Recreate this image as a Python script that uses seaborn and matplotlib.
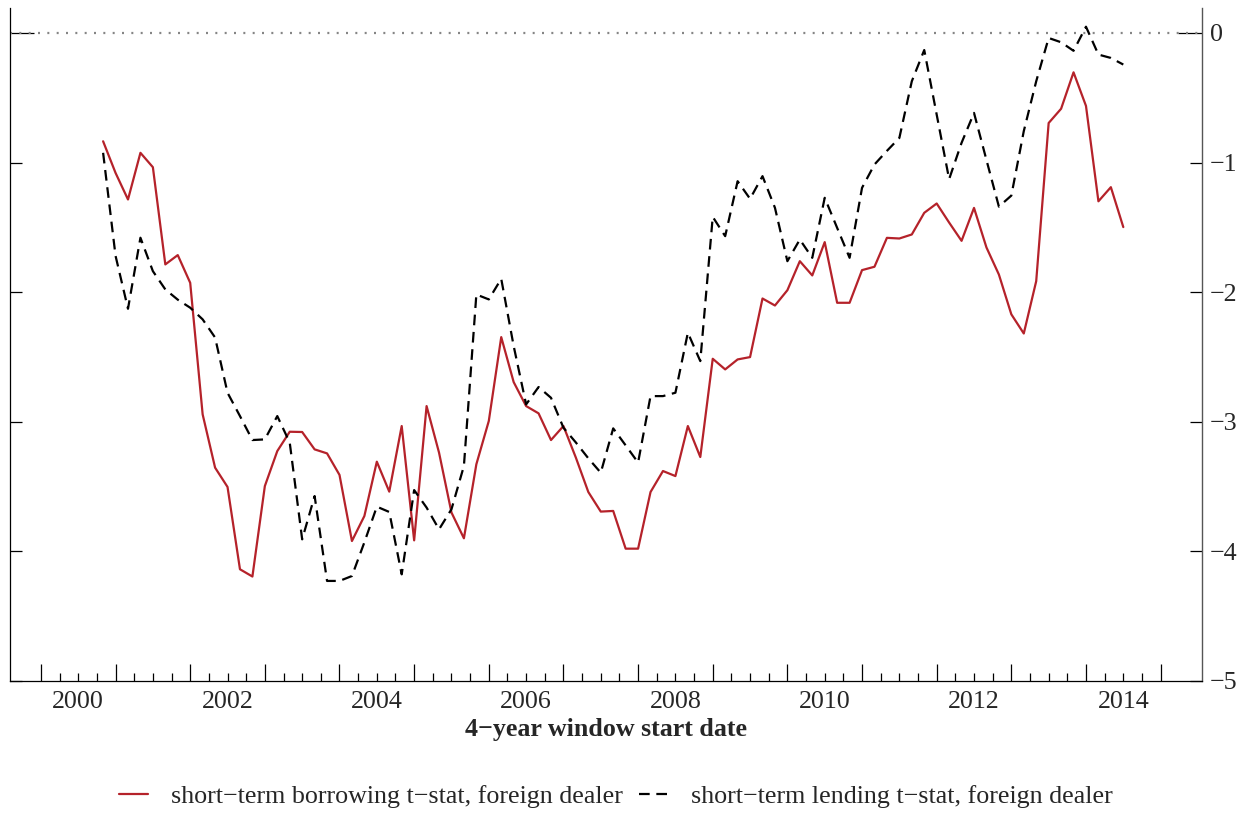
import numpy as np
import pandas as pd
import matplotlib
matplotlib.use("Agg")
import matplotlib.pyplot as plt
from matplotlib.ticker import FixedLocator, FixedFormatter, MultipleLocator
import seaborn as sns

# Rolling 4-year windows, one every two months
window_start = pd.date_range("2000-05-01", "2014-01-01", freq="2MS")

borrowing_tstat = [
    -0.836, -1.080, -1.285, -0.925, -1.036, -1.786, -1.714, -1.928, -2.943, -3.354,
    -3.503, -4.138, -4.194, -3.496, -3.226, -3.077, -3.079, -3.213, -3.244, -3.410,
    -3.920, -3.727, -3.308, -3.539, -3.033, -3.915, -2.879, -3.238, -3.700, -3.899,
    -3.328, -2.994, -2.347, -2.694, -2.879, -2.935, -3.141, -3.033, -3.277, -3.542,
    -3.693, -3.688, -3.979, -3.979, -3.542, -3.380, -3.419, -3.033, -3.272, -2.514,
    -2.596, -2.519, -2.501, -2.049, -2.103, -1.985, -1.761, -1.871, -1.614, -2.082,
    -2.082, -1.830, -1.804, -1.581, -1.586, -1.555, -1.388, -1.316, -1.463, -1.604,
    -1.350, -1.655, -1.864, -2.171, -2.319, -1.915, -0.695, -0.585, -0.304, -0.563,
    -1.299, -1.190, -1.498,
]

lending_tstat = [
    -0.925, -1.720, -2.128, -1.580, -1.838, -1.979, -2.058, -2.120, -2.210, -2.350,
    -2.776, -2.956, -3.141, -3.136, -2.956, -3.161, -3.907, -3.573, -4.228, -4.228,
    -4.190, -3.930, -3.655, -3.696, -4.177, -3.527, -3.662, -3.830, -3.675, -3.341,
    -2.018, -2.056, -1.897, -2.416, -2.866, -2.732, -2.815, -3.046, -3.160, -3.282,
    -3.393, -3.051, -3.182, -3.315, -2.802, -2.802, -2.776, -2.313, -2.532, -1.419,
    -1.568, -1.144, -1.280, -1.105, -1.349, -1.761, -1.594, -1.735, -1.272, -1.504,
    -1.735, -1.195, -1.015, -0.910, -0.810, -0.373, -0.132, -0.630, -1.128, -0.848,
    -0.617, -0.980, -1.340, -1.255, -0.758, -0.373, -0.039, -0.072, -0.138, 0.048,
    -0.167, -0.193, -0.244,
]

series_names = [
    "short\u2212term borrowing t\u2212stat, foreign dealer",
    "short\u2212term lending t\u2212stat, foreign dealer",
]
year_ticks = [2000, 2002, 2004, 2006, 2008, 2010, 2012, 2014]
year_labels = ["2000", "2002", "2004", "2006", "2008", "2010", "2012", "2014"]
y_ticks = [-5, -4, -3, -2, -1]
y_labels = ["\u22125", "\u22124", "\u22123", "\u22122", "\u22121"]

FONT_SIZE = 18.7

sns.set_style("ticks")
plt.rcParams["font.family"] = ["Liberation Serif", "DejaVu Serif"]
plt.rcParams["axes.unicode_minus"] = True

decimal_year = window_start.year + (window_start.month - 1) / 12.0
wide = pd.DataFrame({
    "start": decimal_year,
    series_names[0]: borrowing_tstat,
    series_names[1]: lending_tstat,
})
long = wide.melt(id_vars="start", var_name="series", value_name="tstat")

fig = plt.figure(figsize=(12.47, 8.14), dpi=100)
ax = fig.add_axes([0.00826, 0.1634, 0.9554, 0.8264])

# zero reference line
ax.axhline(0, color="#858585", lw=1.6, ls=(0, (0.9, 3.3)), zorder=1)

sns.lineplot(
    data=long, x="start", y="tstat", hue="series", style="series",
    palette={series_names[0]: "#b5222a", series_names[1]: "black"},
    dashes={series_names[0]: "", series_names[1]: (4.8, 3.0)},
    linewidth=1.6, ax=ax, legend="auto", zorder=3,
)

ax.set_xlim(1999.09, 2015.05)
ax.set_ylim(-5, 0.19)

# year labels on the bottom axis without tick marks
ax.set_xticks(year_ticks, labels=year_labels)
ax.tick_params(axis="x", length=0, pad=7, labelsize=FONT_SIZE)

# tick marks: long at mid-year, short every quarter
ticks_ax = ax.secondary_xaxis("bottom")
ticks_ax.xaxis.set_major_locator(MultipleLocator(1.0, offset=0.5))
ticks_ax.xaxis.set_minor_locator(FixedLocator(np.arange(1999.5, 2014.51, 0.25)))
ticks_ax.tick_params(which="major", direction="in", length=12, width=0.9,
                     color="black", labelbottom=False)
ticks_ax.tick_params(which="minor", direction="in", length=6, width=0.9,
                     color="black")
ticks_ax.spines["bottom"].set_visible(False)

# y axis: ticks on both sides, labels on the right
ax.yaxis.set_major_locator(FixedLocator(y_ticks))
ax.yaxis.set_major_formatter(FixedFormatter(y_labels))
ax.yaxis.set_minor_locator(FixedLocator([0]))
ax.yaxis.set_minor_formatter(FixedFormatter(["0"]))
ax.tick_params(axis="y", which="both", direction="in", left=True, right=True,
               labelleft=False, labelright=True, width=0.9, color="black",
               labelsize=FONT_SIZE, pad=6)
ax.tick_params(axis="y", which="major", length=8.6)
ax.tick_params(axis="y", which="minor", length=17.5)

ax.set_xlabel("4\u2212year window start date", fontsize=FONT_SIZE,
              fontweight="bold", labelpad=4)
ax.set_ylabel("")

ax.spines["top"].set_visible(False)
ax.spines["left"].set_color("black")
ax.spines["left"].set_linewidth(0.9)
ax.spines["bottom"].set_color("black")
ax.spines["bottom"].set_linewidth(0.9)
ax.spines["right"].set_color("#555555")
ax.spines["right"].set_linewidth(1.0)

sns.move_legend(
    ax, "center", bbox_to_anchor=(0.494, 0.021), bbox_transform=fig.transFigure,
    ncol=2, title=None, frameon=False, fontsize=FONT_SIZE,
    handlelength=1.1, handletextpad=0.9, columnspacing=0.6,
)

fig.savefig("out.png", dpi=100)
